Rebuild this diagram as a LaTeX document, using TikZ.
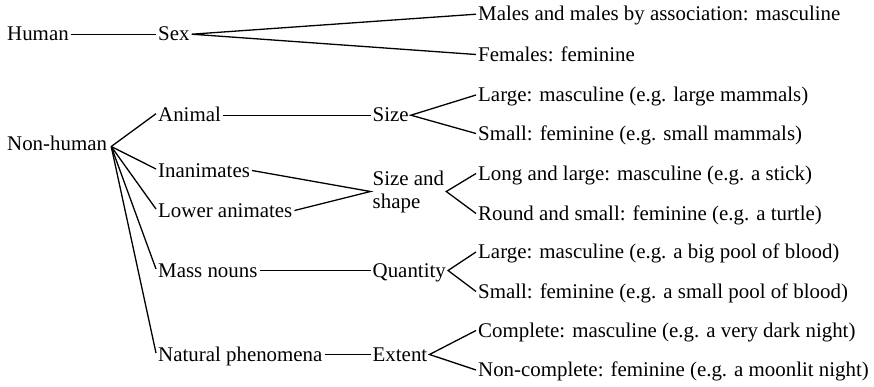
\documentclass[tikz,border=0pt]{standalone}
\usepackage{fontspec}
\setmainfont{Liberation Serif}
\usepackage{tikz}

\begin{document}
\begin{tikzpicture}[x=1pt, y=-1pt,
    lbl/.style={font=\fontsize{20.9}{23}\selectfont, inner xsep=2pt, inner ysep=0pt},
    word/.style={lbl, text height=13pt, text depth=0pt, anchor=base west},
    link/.style={line width=1.3pt}]
    \useasboundingbox (0,0) rectangle (874,386);

    % Human
    \node[word] (human) at (5,40.7) {Human};
    \node[word] (sex) at (156,40.7) {Sex};
    \node[word] (males) at (476,20.7) {Males and males by association: masculine};
    \node[word] (females) at (476,61) {Females: feminine};

    \draw[link] (human.east) -- (sex.west);
    \draw[link] (males.west) -- (sex.east) -- (females.west);

    % Non-human
    \node[word] (nonhuman) at (5,150) {Non-human};
    \node[word] (animal) at (156,121.7) {Animal};
    \node[word] (inanimates) at (156,177) {Inanimates};
    \node[word] (lower) at (156,217) {Lower animates};
    \node[word] (mass) at (156,277) {Mass nouns};
    \node[word] (natural) at (156,361) {Natural phenomena};

    \foreach \k in {animal,inanimates,lower,mass,natural}
        \draw[link] ([xshift=2pt,yshift=-3pt]nonhuman.east) -- ([yshift=1.5pt]\k.west);

    % Criteria
    \node[word] (size) at (370.5,121.7) {Size};
    \node[lbl, align=left, anchor=west] (sizeshape) at (370.5,191.5) {Size and\\shape};
    \node[word] (quantity) at (370.5,277) {Quantity};
    \node[word] (extent) at (370.5,361) {Extent};

    \draw[link] (animal.east) -- (size.west);
    \draw[link] (inanimates.east) -- (sizeshape.west) -- (lower.east);
    \draw[link] (mass.east) -- (quantity.west);
    \draw[link] (natural.east) -- (extent.west);

    % Gender assignment
    \node[word] (largeanim) at (476,101.5) {Large: masculine (e.g. large mammals)};
    \node[word] (smallanim) at (476,140) {Small: feminine (e.g. small mammals)};
    \node[word] (long) at (476,180) {Long and large: masculine (e.g. a stick)};
    \node[word] (round) at (476,220) {Round and small: feminine (e.g. a turtle)};
    \node[word] (largepool) at (476,258.5) {Large: masculine (e.g. a big pool of blood)};
    \node[word] (smallpool) at (476,298) {Small: feminine (e.g. a small pool of blood)};
    \node[word] (complete) at (476,337) {Complete: masculine (e.g. a very dark night)};
    \node[word] (noncomplete) at (476,376.5) {Non-complete: feminine (e.g. a moonlit night)};

    \draw[link] (largeanim.west) -- (size.east) -- (smallanim.west);
    \draw[link] (long.west) -- (sizeshape.east) -- (round.west);
    \draw[link] (largepool.west) -- (quantity.east) -- (smallpool.west);
    \draw[link] (complete.west) -- (extent.east) -- (noncomplete.west);
\end{tikzpicture}
\end{document}
